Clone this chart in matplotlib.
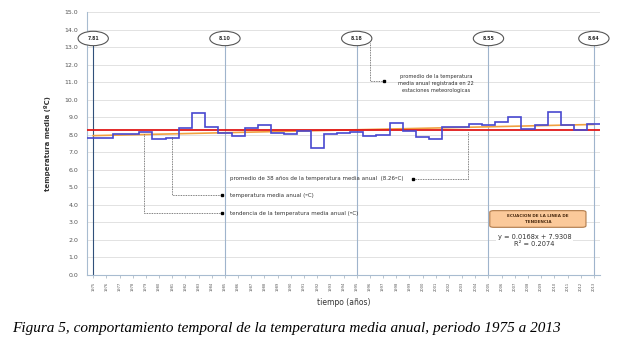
import matplotlib
matplotlib.use("Agg")
import matplotlib.pyplot as plt
from matplotlib.patches import Ellipse, FancyBboxPatch
import numpy as np

# Datos: temperatura media anual (ºC), 1975-2013
years = list(range(1975, 2014))
temps = [7.81, 7.83, 8.02, 8.02, 8.17, 7.78, 7.83, 8.38, 9.24, 8.42,
         8.10, 7.90, 8.38, 8.53, 8.10, 8.04, 8.24, 7.26, 8.05, 8.08,
         8.18, 7.92, 8.00, 8.65, 8.20, 7.88, 7.76, 8.46, 8.46, 8.62,
         8.55, 8.73, 9.00, 8.35, 8.58, 9.29, 8.58, 8.27, 8.64]

mean_temp = 8.26
trend_slope = 0.0168
trend_icpt = 7.9308
r2 = 0.2074

bubble_years = [1975, 1985, 1995, 2005, 2013]
bubble_labels = ["7.81", "8.10", "8.18", "8.55", "8.64"]

fig = plt.figure(figsize=(6.2, 3.37), dpi=100)
ax = fig.add_axes([0.1397, 0.184, 0.8288, 0.7804])

x = np.array(years)
y = np.array(temps)
edges = np.append(x - 0.5, x[-1] + 0.5)

# tendencia (naranja) y promedio (rojo)
trend = trend_icpt + trend_slope * np.arange(1, len(x) + 1)
ax.plot(x, trend, color='#f0a040', lw=1.2, zorder=3)
ax.axhline(mean_temp, color='#e01818', lw=1.3, zorder=4)
ax.stairs(y, edges, baseline=None, color='#4848d0', lw=1.2, zorder=5)

# lineas verticales y burbujas
bub_y = 13.49
for yr, lab in zip(bubble_years, bubble_labels):
    col = '#30507a' if yr == 1975 else '#9fb4cc'
    ax.plot([yr, yr], [0, bub_y - 0.42], color=col, lw=0.8, zorder=2)
    ax.add_patch(Ellipse((yr, bub_y), 2.3, 0.82, facecolor='white',
                         edgecolor='#555555', lw=0.8, zorder=6, clip_on=False))
    ax.text(yr, bub_y, lab, fontsize=3.4, fontweight='bold', ha='center',
            va='center', color='#333333', zorder=7)

dot = dict(color='#555555', lw=0.6, ls=(0, (1, 1)), zorder=6)
mk = dict(marker='s', ms=1.8, color='black', zorder=7)

# promedio de 22 estaciones
ax.plot([1996.0, 1996.0, 1997.1], [13.22, 11.04, 11.04], **dot)
ax.plot([1997.1], [11.04], **mk)
ax.text(2001.0, 10.9, "promedio de la temperatura\nmedia anual registrada en 22\n"
        "estaciones meteorologicas", fontsize=3.7, ha='center', va='center',
        color='#333333', linespacing=1.5)

# promedio de 38 años
ax.plot([2003.48, 2003.48, 1999.3], [8.16, 5.50, 5.50], **dot)
ax.plot([1999.3], [5.50], **mk)
ax.text(1985.35, 5.50, "promedio de 38 años de la temperatura media anual  (8.26ºC)",
        fontsize=3.95, ha='left', va='center', color='#333333')

# temperatura media anual
ax.plot([1980.97, 1980.97, 1984.77], [7.85, 4.55, 4.55], **dot)
ax.plot([1984.77], [4.55], **mk)
ax.text(1985.35, 4.55, "temperatura media anual (ºC)", fontsize=3.95,
        ha='left', va='center', color='#333333')

# tendencia
ax.plot([1978.87, 1978.87, 1984.77], [8.02, 3.51, 3.51], **dot)
ax.plot([1984.77], [3.51], **mk)
ax.text(1985.35, 3.51, "tendencia de la temperatura media anual (ºC)", fontsize=3.95,
        ha='left', va='center', color='#333333')

# cuadro de la ecuacion
ax.add_patch(FancyBboxPatch((2005.1, 2.72), 7.3, 0.95,
                            boxstyle="round,pad=0,rounding_size=0.3",
                            facecolor='#fbc99a', edgecolor='#b07a4a', lw=0.8,
                            zorder=6, mutation_aspect=0.3))
ax.text(2008.75, 3.2, "ECUACION DE LA LINEA DE\nTENDENCIA", fontsize=3.0,
        fontweight='bold', ha='center', va='center', color='#4a2a10',
        zorder=7, linespacing=1.5)
ax.text(2008.5, 1.98, f"y = {trend_slope}x + {trend_icpt}\nR² = {r2}",
        fontsize=4.8, ha='center', va='center', color='#333333', zorder=7,
        linespacing=1.2,
        bbox=dict(facecolor='white', edgecolor='none', pad=1))

# ejes
ax.set_xlim(1974.5, 2013.5)
ax.set_ylim(0, 15)
ax.set_yticks(np.arange(0, 15.1, 1.0))
ax.set_yticklabels([f"{v:.1f}" for v in np.arange(0, 15.1, 1.0)],
                   fontsize=4.5, color='#555555')
ax.set_xticks(years)
ax.set_xticklabels([str(v) for v in years], rotation=90, fontsize=2.6,
                   color='#555555')
ax.tick_params(axis='y', length=0, pad=6)
ax.tick_params(axis='x', length=2, width=0.4, color='#8899aa', pad=3)
ax.grid(axis='y', color='#dddddd', lw=0.6)
ax.set_axisbelow(True)
for s in ['top', 'right']:
    ax.spines[s].set_visible(False)
ax.spines['left'].set_color('#a8bcd0')
ax.spines['left'].set_linewidth(0.8)
ax.spines['bottom'].set_color('#a8bcd0')
ax.spines['bottom'].set_linewidth(0.8)

ax.set_ylabel("temperatura media (ºC)", fontsize=5, fontweight='bold',
              color='#333333', labelpad=10)
ax.set_xlabel("tiempo (años)", fontsize=5.5, color='#333333', labelpad=5)

fig.text(0.019, 0.016, "Figura 5, comportamiento temporal de la temperatura media anual, "
         "periodo 1975 a 2013", fontsize=11, fontstyle='italic',
         family='Liberation Serif', color='black', ha='left', va='baseline')

fig.savefig("out.png", dpi=100)
